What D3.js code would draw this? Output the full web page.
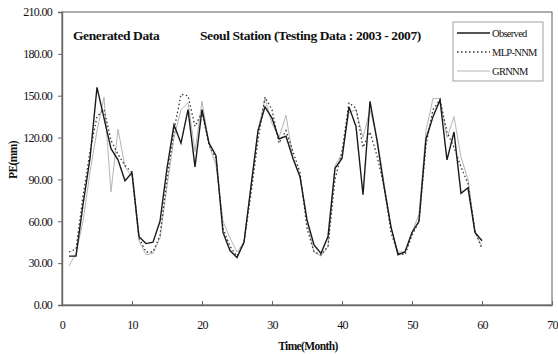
<!DOCTYPE html>
<html lang="en">
<head>
<meta charset="utf-8">
<title>Seoul Station PE</title>
<script src="https://cdnjs.cloudflare.com/ajax/libs/d3/7.8.5/d3.min.js"></script>
<style>
  body { margin: 0; background: #fff; }
  text { font-family: "Liberation Serif", "Times New Roman", serif; fill: #111; }
</style>
</head>
<body>
<script>
// monthly values (months 1..60)
var months = d3.range(1, 61);
var observed = [35, 35, 72, 105, 156, 134, 112, 104, 89, 95,
                49, 44, 45, 60, 98, 129, 116, 140, 99, 140,
                116, 107, 52, 39, 34, 45, 85, 125, 142, 134,
                119, 121, 105, 92, 61, 43, 37, 49, 98, 105,
                142, 128, 79, 146, 118, 85, 56, 36, 38, 52,
                60, 119, 135, 147, 104, 124, 80, 84, 52, 46];
var mlp = [38, 40, 78, 110, 135, 140, 118, 108, 100, 95,
           48, 38, 38, 50, 90, 125, 151, 150, 128, 138,
           115, 105, 55, 42, 35, 45, 80, 118, 149, 140,
           116, 125, 110, 95, 55, 38, 36, 42, 90, 110,
           145, 141, 113, 124, 107, 85, 52, 37, 36, 50,
           60, 115, 140, 147, 124, 113, 99, 87, 53, 40];
var grnn = [28, 37, 60, 95, 125, 149, 81, 126, 99, 92,
            46, 36, 37, 48, 85, 120, 140, 145, 110, 146,
            115, 100, 60, 48, 38, 45, 85, 125, 148, 130,
            120, 136, 105, 92, 60, 38, 35, 42, 100, 108,
            138, 140, 120, 140, 120, 88, 55, 38, 38, 52,
            65, 125, 148, 148, 120, 135, 106, 90, 52, 42];
var xTicks = [0, 10, 20, 30, 40, 50, 60, 70];
var yTicks = [0, 30, 60, 90, 120, 150, 180, 210];
var seriesNames = ["Observed", "MLP-NNM", "GRNNM"];

var w = 558, h = 354;
var m = {left: 62, right: 6, top: 12, bottom: 49};

var svg = d3.select("body").append("svg")
  .attr("width", w).attr("height", h);

var x = d3.scaleLinear().domain([0, 70]).range([m.left, w - m.right]);
var y = d3.scaleLinear().domain([0, 210]).range([h - m.bottom, m.top]);

// plot frame
svg.append("rect")
  .attr("x", x(0)).attr("y", y(210))
  .attr("width", x(70) - x(0)).attr("height", y(0) - y(210))
  .attr("fill", "none").attr("stroke", "#777").attr("stroke-width", 1.2);

// y axis
var yAxis = svg.append("g")
  .attr("transform", "translate(" + x(0) + ",0)")
  .call(d3.axisLeft(y).tickValues(yTicks).tickSize(4).tickPadding(6)
    .tickFormat(d3.format(".2f")));
yAxis.select(".domain").attr("stroke", "#666").attr("stroke-width", 1.4);
yAxis.selectAll(".tick line").attr("stroke", "#666");
yAxis.selectAll("text").attr("font-size", "12px").attr("letter-spacing", "-0.7px")
  .attr("font-family", "Liberation Serif").attr("fill", "#111");

// x axis (ticks point inward)
var xAxis = svg.append("g")
  .attr("transform", "translate(0," + y(0) + ")")
  .call(d3.axisBottom(x).tickValues(xTicks).tickSizeInner(-4).tickSizeOuter(0).tickPadding(15));
xAxis.select(".domain").attr("stroke", "#666").attr("stroke-width", 1.4);
xAxis.selectAll(".tick line").attr("stroke", "#666");
xAxis.selectAll("text").attr("font-size", "12px").attr("letter-spacing", "-0.7px")
  .attr("font-family", "Liberation Serif").attr("fill", "#111");

// axis titles
svg.append("text")
  .attr("x", 308).attr("y", 350)
  .attr("text-anchor", "middle")
  .attr("font-size", "11.5px").attr("font-weight", "bold").attr("letter-spacing", "-0.6px")
  .text("Time(Month)");
svg.append("text")
  .attr("transform", "translate(17,160) rotate(-90)")
  .attr("text-anchor", "middle")
  .attr("font-size", "11.5px").attr("font-weight", "bold").attr("letter-spacing", "-0.6px")
  .text("PE(mm)");

// titles inside the plot
svg.append("text")
  .attr("x", 73).attr("y", 40)
  .attr("font-size", "13.5px").attr("font-weight", "bold").attr("letter-spacing", "-0.4px")
  .text("Generated Data");
svg.append("text")
  .attr("x", 200).attr("y", 40)
  .attr("font-size", "13.5px").attr("font-weight", "bold").attr("letter-spacing", "-0.4px")
  .text("Seoul Station (Testing Data : 2003 - 2007)");

// lines
var styles = [
  {data: observed, stroke: "#1a1a1a", width: 1.4, dash: null},
  {data: mlp, stroke: "#333", width: 1.3, dash: "1.5,2.5"},
  {data: grnn, stroke: "#b5b5b5", width: 1, dash: null}
];
var line = d3.line()
  .x(function(d, i) { return x(months[i]); })
  .y(function(d) { return y(d); });

// draw gray first, then dotted, then observed on top
[2, 1, 0].forEach(function(k) {
  svg.append("path")
    .datum(styles[k].data)
    .attr("d", line)
    .attr("fill", "none")
    .attr("stroke", styles[k].stroke)
    .attr("stroke-width", styles[k].width)
    .attr("stroke-dasharray", styles[k].dash);
});

// legend
var lg = svg.append("g").attr("transform", "translate(453,22)");
lg.append("rect").attr("width", 90).attr("height", 59)
  .attr("fill", "#fff").attr("stroke", "#888").attr("stroke-width", 0.8);
seriesNames.forEach(function(name, i) {
  var yy = 11 + i * 19;
  lg.append("line").attr("x1", 4).attr("x2", 37).attr("y1", yy).attr("y2", yy)
    .attr("stroke", styles[i].stroke).attr("stroke-width", styles[i].width)
    .attr("stroke-dasharray", styles[i].dash);
  lg.append("text").attr("x", 39).attr("y", yy + 4)
    .attr("font-size", "10.5px").attr("letter-spacing", "-0.7px")
    .text(name);
});
</script>
</body>
</html>
